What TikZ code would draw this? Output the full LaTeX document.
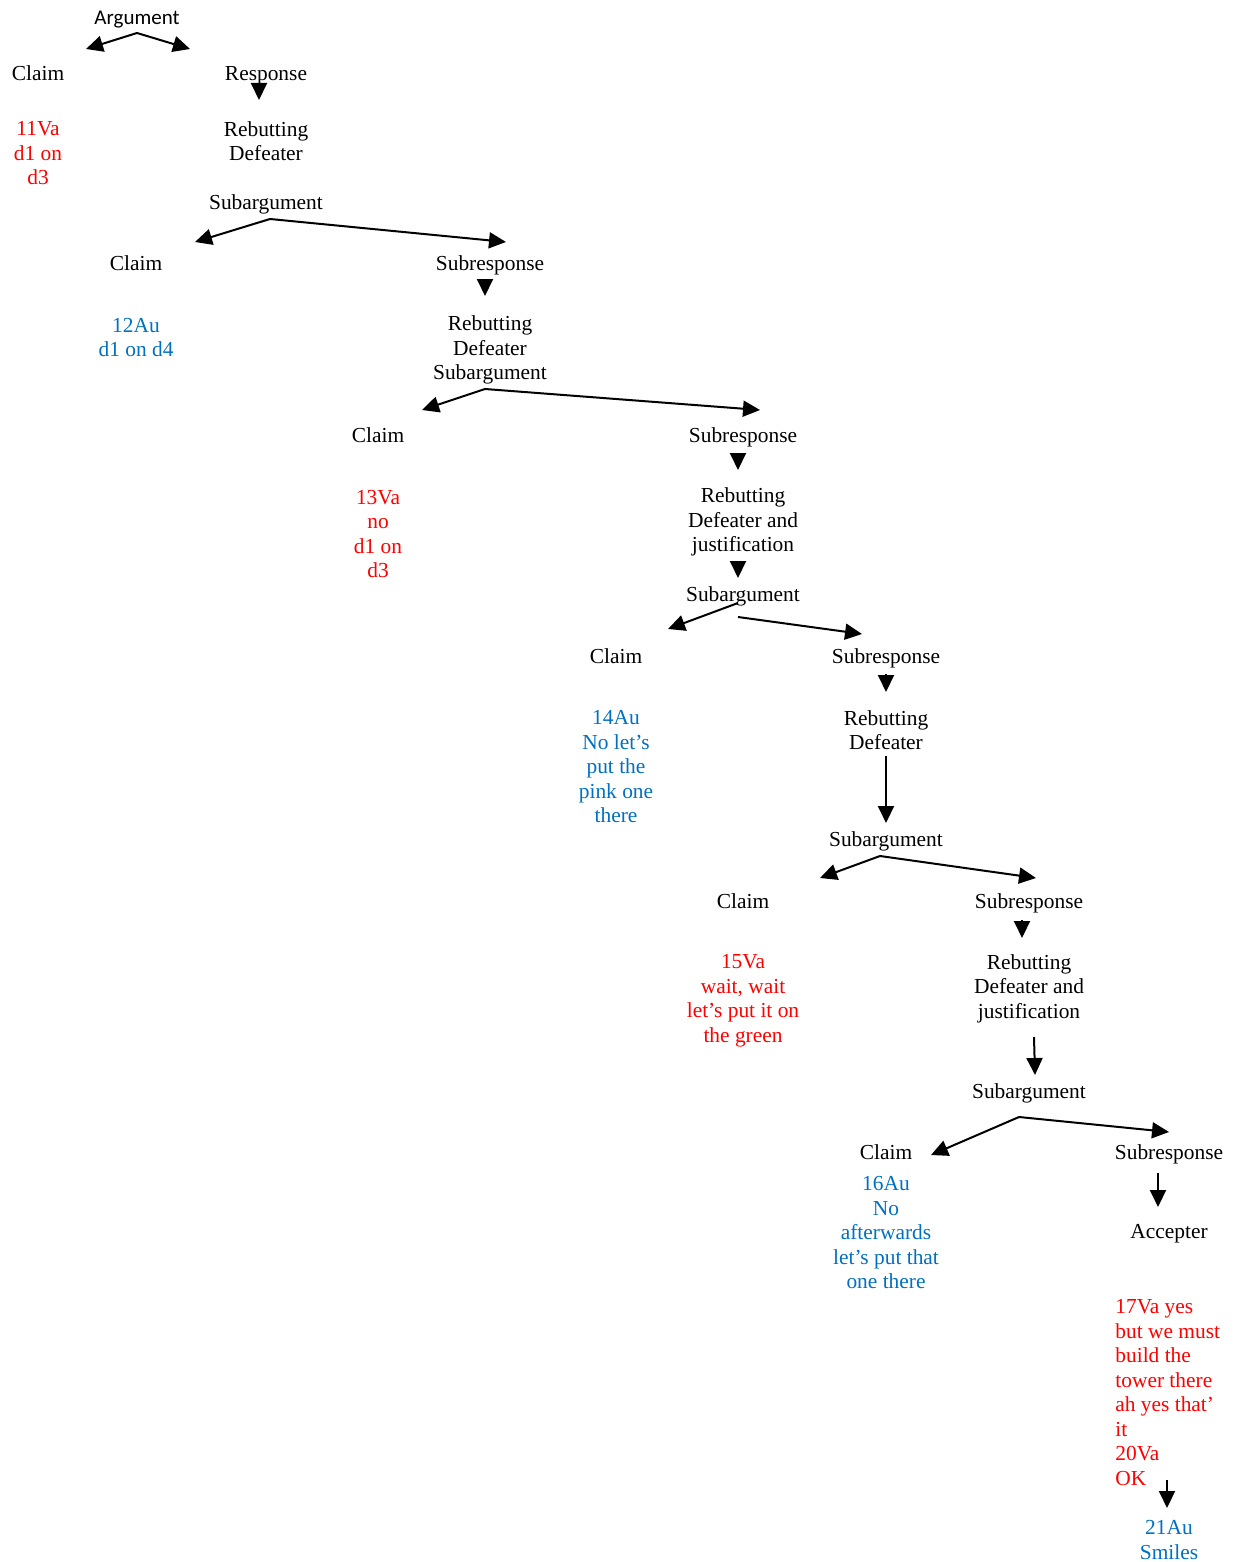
\documentclass[tikz,border=0pt]{standalone}
\usepackage{fontspec}
\setmainfont{Liberation Serif}
\newfontfamily\argfont{Carlito}
\usetikzlibrary{arrows.meta}
\definecolor{tred}{RGB}{255,0,0}
\definecolor{tblue}{RGB}{0,112,192}
\begin{document}
\begin{tikzpicture}[x=0.5pt,y=-0.5pt,
  lbl/.style={inner sep=0pt,align=center,font=\fontsize{10.7}{12.25}\selectfont},
  rtxt/.style={lbl,text=tred},
  btxt/.style={lbl,text=tblue},
  arr/.style={line width=1pt,-{Triangle[length=8.5pt,width=8pt]}}]
\useasboundingbox[fill=white] (0,0) rectangle (1238,1562);
% level 0
\node[inner sep=0pt,font=\argfont\fontsize{10.5}{12.25}\selectfont] (arg) at (137,19.5) {Argument};
\node[lbl] (c1) at (38,73) {Claim};
\node[lbl] (r1) at (266,75.5) {Response};
\node[rtxt] (t11) at (38,153.5) {11Va\\d1 on\\d3};
\node[lbl] (rd1) at (266,141) {Rebutting\\Defeater};
\node[lbl] (s1) at (266,204.5) {Subargument};
\coordinate (a0) at (137,33);
\coordinate (a0l) at (86,49);
\coordinate (a0r) at (190,49);
\draw[arr] (a0) -- (a0l);
\draw[arr] (a0) -- (a0r);
\coordinate (b1s) at (259,84);
\coordinate (b1e) at (259,100);
\draw[arr] (b1s) -- (b1e);
% level 1
\coordinate (a1) at (270,219);
\coordinate (a1l) at (195,242);
\coordinate (a1r) at (506,242);
\draw[arr] (a1) -- (a1l);
\draw[arr] (a1) -- (a1r);
\node[lbl] (c2) at (136,263) {Claim};
\node[lbl] (r2) at (490,265.5) {Subresponse};
\node[btxt] (t12) at (136,337.5) {12Au\\d1 on d4};
\node[lbl] (rd2) at (490,350) {Rebutting\\Defeater\\Subargument};
\coordinate (b2s) at (485,279);
\coordinate (b2e) at (485,296);
\draw[arr] (b2s) -- (b2e);
% level 2
\coordinate (a2) at (485,389);
\coordinate (a2l) at (422,410);
\coordinate (a2r) at (760,410);
\draw[arr] (a2) -- (a2l);
\draw[arr] (a2) -- (a2r);
\node[lbl] (c3) at (378,435) {Claim};
\node[lbl] (r3) at (743,437.5) {Subresponse};
\node[rtxt] (t13) at (378,534) {13Va\\no\\d1 on\\d3};
\node[lbl] (rd3) at (743,522) {Rebutting\\Defeater and\\justification};
\coordinate (b3s) at (738,453);
\coordinate (b3e) at (738,470);
\draw[arr] (b3s) -- (b3e);
\coordinate (b4s) at (738,561);
\coordinate (b4e) at (738,578);
\draw[arr] (b4s) -- (b4e);
\node[lbl] (s3) at (743,596) {Subargument};
% level 3
\coordinate (a3) at (738,603);
\coordinate (a3l) at (668,629);
\coordinate (a3b) at (738,617);
\coordinate (a3r) at (862,634);
\draw[arr] (a3) -- (a3l);
\draw[arr] (a3b) -- (a3r);
\node[lbl] (c4) at (616,656) {Claim};
\node[lbl] (r4) at (886,658.5) {Subresponse};
\node[btxt] (t14) at (616,767) {14Au\\No let’s\\put the\\pink one\\there};
\node[lbl] (rd4) at (886,730) {Rebutting\\Defeater};
\coordinate (b5s) at (886,674);
\coordinate (b5e) at (886,692);
\draw[arr] (b5s) -- (b5e);
\coordinate (b6s) at (886,756);
\coordinate (b6e) at (886,823);
\draw[arr] (b6s) -- (b6e);
\node[lbl] (s4) at (886,841) {Subargument};
% level 4
\coordinate (a4) at (880,856);
\coordinate (a4l) at (820,878);
\coordinate (a4r) at (1036,878);
\draw[arr] (a4) -- (a4l);
\draw[arr] (a4) -- (a4r);
\node[lbl] (c5) at (743,901) {Claim};
\node[lbl] (r5) at (1029,903.5) {Subresponse};
\node[rtxt] (t15) at (743,1000.5) {15Va\\wait, wait\\let’s put it on\\the green};
\node[lbl] (rd5) at (1029,988.5) {Rebutting\\Defeater and\\justification};
\coordinate (b7s) at (1022,920);
\coordinate (b7e) at (1022,938);
\draw[arr] (b7s) -- (b7e);
\coordinate (b8s) at (1034,1037);
\coordinate (b8e) at (1035,1075);
\draw[arr] (b8s) -- (b8e);
\node[lbl] (s5) at (1029,1093) {Subargument};
% level 5
\coordinate (a5) at (1019,1117);
\coordinate (a5l) at (931,1155);
\coordinate (a5r) at (1169,1132);
\draw[arr] (a5) -- (a5l);
\draw[arr] (a5) -- (a5r);
\node[lbl] (c6) at (886,1152) {Claim};
\node[lbl] (r6) at (1169,1154.5) {Subresponse};
\node[btxt] (t16) at (886,1233) {16Au\\No\\afterwards\\let’s put that\\one there};
\coordinate (b9s) at (1158,1173);
\coordinate (b9e) at (1158,1207);
\draw[arr] (b9s) -- (b9e);
\node[lbl] (acc) at (1169,1233.5) {Accepter};
\node[rtxt,align=left,anchor=west] (t17) at (1115,1392.5) {17Va yes\\but we must\\build the\\tower there\\ah yes that’\\it\\20Va\\OK};
\coordinate (b10s) at (1167,1480);
\coordinate (b10e) at (1167,1508);
\draw[arr] (b10s) -- (b10e);
\node[btxt] (t21) at (1169,1540) {21Au\\Smiles};
\end{tikzpicture}
\end{document}
